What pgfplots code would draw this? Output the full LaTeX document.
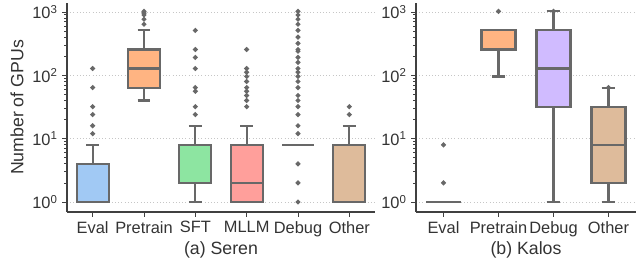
\documentclass[border=0pt]{standalone}
\usepackage{pgfplots}
\pgfplotsset{compat=1.18}
\usepgfplotslibrary{statistics}
\usepackage{fontspec}
\setmainfont{Liberation Sans}
\definecolor{cEval}{HTML}{A1C9F4}
\definecolor{cPre}{HTML}{FFB482}
\definecolor{cSFT}{HTML}{8DE5A1}
\definecolor{cMLLM}{HTML}{FF9F9B}
\definecolor{cDebug}{HTML}{D0BBFF}
\definecolor{cOther}{HTML}{DEBB9B}
\definecolor{lgray}{HTML}{686868}
\definecolor{txt}{HTML}{333333}
\pgfplotsset{
 bx/.style={draw=lgray, line width=1.6pt, fill=#1, mark=*, mark size=0.9pt,
   mark options={draw=none, fill=lgray}},
}
\begin{document}
\begin{tikzpicture}
\useasboundingbox (-50.25pt,-40.5pt) rectangle (427.5pt,159pt);
\begin{axis}[
  scale only axis, height=156.75pt, ymode=log, ymin=0.695, ymax=1388,
  axis x line*=bottom, axis y line*=left,
  axis line style={draw=black!75, line width=0.8pt, -},
  xmin=-0.5,
  ytick={1,10,100,1000},
  yticklabels={10\textsuperscript{0},10\textsuperscript{1},10\textsuperscript{2},10\textsuperscript{3}},
  ymajorgrids, grid style={dotted, gray!45, line width=0.6pt},
  tick style={black!75, line width=0.6pt},
  major tick length=3.5pt, minor tick length=2pt,
  tick align=outside,
  tick label style={font=\fontsize{12.3}{14}\selectfont, text=txt},
  xlabel style={at={(axis description cs:0.5,-0.182)}, anchor=center, font=\fontsize{13.3}{15}\selectfont, text=txt},
  ylabel style={at={(axis description cs:-0.162,0.5)}, anchor=center, rotate=0, font=\fontsize{13.3}{15}\selectfont, text=txt},
  boxplot/draw direction=y,
  boxplot/box extend=0.62,
  boxplot/whisker extend=0.25,
  width=231pt, xmax=5.5,
  xtick={0,1,2,3,4,5}, xticklabels={Eval,Pretrain,SFT,MLLM,Debug,Other},
  ylabel={Number of GPUs}, xlabel={(a) Seren}]
\addplot[bx=cEval, boxplot prepared={draw position=0, lower whisker=1, lower quartile=1, median=1, upper quartile=4, upper whisker=8}]
 coordinates {(0,12) (0,16) (0,24) (0,32) (0,64) (0,128)};
\addplot[bx=cPre, boxplot prepared={draw position=1, lower whisker=40, lower quartile=64, median=128, upper quartile=256, upper whisker=512}]
 coordinates {(1,640) (1,768) (1,896) (1,960) (1,1024)};
\addplot[bx=cSFT, boxplot prepared={draw position=2, lower whisker=1, lower quartile=2, median=8, upper quartile=8, upper whisker=16}]
 coordinates {(2,24) (2,32) (2,56) (2,64) (2,128) (2,192) (2,256) (2,512)};
\addplot[bx=cMLLM, boxplot prepared={draw position=3, lower whisker=1, lower quartile=1, median=2, upper quartile=8, upper whisker=16}]
 coordinates {(3,32) (3,40) (3,48) (3,56) (3,64) (3,80) (3,96) (3,112) (3,128) (3,256)};
\addplot[bx=cDebug, boxplot prepared={draw position=4, lower whisker=8, lower quartile=8, median=8, upper quartile=8, upper whisker=8}]
 coordinates {(4,1) (4,2) (4,4) (4,12) (4,16) (4,24) (4,32) (4,40) (4,48) (4,64) (4,80) (4,96) (4,112) (4,128) (4,160) (4,192) (4,240) (4,256) (4,320) (4,400) (4,512) (4,640) (4,768) (4,896) (4,1024)};
\addplot[bx=cOther, boxplot prepared={draw position=5, lower whisker=1, lower quartile=1, median=8, upper quartile=8, upper whisker=16}]
 coordinates {(5,24) (5,32)};
\end{axis}
\begin{axis}[
  at={(261.75pt,0)},
  scale only axis, height=156.75pt, ymode=log, ymin=0.695, ymax=1388,
  axis x line*=bottom, axis y line*=left,
  axis line style={draw=black!75, line width=0.8pt, -},
  xmin=-0.5,
  ytick={1,10,100,1000},
  yticklabels={10\textsuperscript{0},10\textsuperscript{1},10\textsuperscript{2},10\textsuperscript{3}},
  ymajorgrids, grid style={dotted, gray!45, line width=0.6pt},
  tick style={black!75, line width=0.6pt},
  major tick length=3.5pt, minor tick length=2pt,
  tick align=outside,
  tick label style={font=\fontsize{12.3}{14}\selectfont, text=txt},
  xlabel style={at={(axis description cs:0.5,-0.182)}, anchor=center, font=\fontsize{13.3}{15}\selectfont, text=txt},
  boxplot/draw direction=y,
  boxplot/box extend=0.62,
  boxplot/whisker extend=0.25,
  width=165pt, xmax=3.5,
  xtick={0,1,2,3}, xticklabels={Eval,Pretrain,Debug,Other},
  xlabel={(b) Kalos}]
\addplot[bx=cEval, boxplot prepared={draw position=0, lower whisker=1, lower quartile=1, median=1, upper quartile=1, upper whisker=1}]
 coordinates {(0,2) (0,8)};
\addplot[bx=cPre, boxplot prepared={draw position=1, lower whisker=96, lower quartile=256, median=512, upper quartile=512, upper whisker=512}]
 coordinates {(1,1024)};
\addplot[bx=cDebug, boxplot prepared={draw position=2, lower whisker=1, lower quartile=32, median=128, upper quartile=512, upper whisker=1024}]
 coordinates {(2,1024)};
\addplot[bx=cOther, boxplot prepared={draw position=3, lower whisker=1, lower quartile=2, median=8, upper quartile=32, upper whisker=64}]
 coordinates {(3,64)};
\end{axis}
\end{tikzpicture}
\end{document}
